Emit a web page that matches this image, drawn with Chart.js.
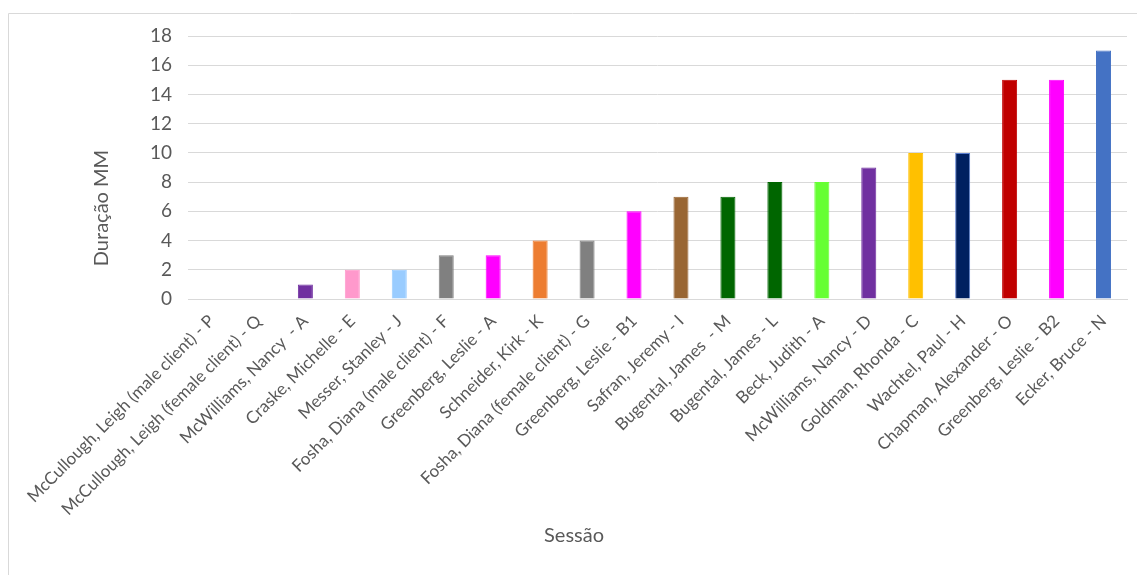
<!DOCTYPE html>
<html lang="pt">
<head>
<meta charset="utf-8">
<title>Duração MM por sessão</title>
<script src="https://cdn.jsdelivr.net/npm/chart.js"></script>
<style>
  html, body { margin: 0; padding: 0; background: #fff; }
  #wrap { width: 1137px; height: 575px; }
</style>
</head>
<body>
<div id="wrap"><canvas id="duracaoChart" width="1137" height="575"></canvas></div>

<script>
  // sessões, em ordem crescente de duração
  const sessoes = [
    'McCullough, Leigh (male client) - P',
    'McCullough, Leigh (female client) - Q',
    'McWilliams, Nancy  - A',
    'Craske, Michelle - E',
    'Messer, Stanley - J',
    'Fosha, Diana (male client) - F',
    'Greenberg, Leslie - A',
    'Schneider, Kirk - K',
    'Fosha, Diana (female client) - G',
    'Greenberg, Leslie - B1',
    'Safran, Jeremy - I',
    'Bugental, James  - M',
    'Bugental, James - L',
    'Beck, Judith - A',
    'McWilliams, Nancy - D',
    'Goldman, Rhonda - C',
    'Wachtel, Paul - H',
    'Chapman, Alexander - O',
    'Greenberg, Leslie - B2',
    'Ecker, Bruce - N'
  ];
  const duracao = [0, 0, 1, 2, 2, 3, 3, 4, 4, 6, 7, 7, 8, 8, 9, 10, 10, 15, 15, 17];
  const cores = [
    '#7030A0', '#7030A0', '#7030A0', '#FF99CC', '#99CCFF',
    '#808080', '#FF00FF', '#ED7D31', '#808080', '#FF00FF',
    '#996633', '#006600', '#006600', '#66FF33', '#7030A0',
    '#FFC000', '#002060', '#C00000', '#FF00FF', '#4472C4'
  ];
  const bordas = cores.map((c, i) => i === 16 ? '#5B7FD0' : c);
  const yMax = 18;
  const yPasso = 2;

  const cinzaTexto = '#595959';
  const cinzaLinha = '#d9d9d9';
  const fonte = 'Lato';

  // moldura do gráfico e títulos dos eixos
  const molduraETitulos = {
    id: 'molduraETitulos',
    afterDraw(chart) {
      const ctx = chart.ctx;
      ctx.save();
      ctx.strokeStyle = cinzaLinha;
      ctx.lineWidth = 1;
      ctx.beginPath();
      ctx.moveTo(8.5, chart.height);
      ctx.lineTo(8.5, 13.5);
      ctx.lineTo(chart.width, 13.5);
      ctx.stroke();

      ctx.fillStyle = cinzaTexto;
      ctx.font = '20px ' + fonte;
      ctx.textAlign = 'center';
      ctx.textBaseline = 'middle';
      ctx.fillText('Sessão', 574, 536);
      ctx.translate(102, 208);
      ctx.rotate(-Math.PI / 2);
      ctx.fillText('Duração MM', 0, 0);
      ctx.restore();
    }
  };

  new Chart(document.getElementById('duracaoChart').getContext('2d'), {
    type: 'bar',
    data: {
      labels: sessoes,
      datasets: [{
        label: 'Duração MM',
        data: duracao,
        backgroundColor: cores,
        borderColor: bordas,
        borderWidth: 1,
        categoryPercentage: 1,
        barPercentage: 0.32
      }]
    },
    options: {
      responsive: false,
      animation: false,
      layout: { padding: { top: 36, right: 10, left: 0, bottom: 0 } },
      plugins: {
        legend: { display: false },
        tooltip: { enabled: false }
      },
      scales: {
        x: {
          grid: { display: false, drawTicks: false },
          border: { display: true, color: cinzaLinha, width: 1 },
          ticks: {
            autoSkip: false,
            maxRotation: 45,
            minRotation: 45,
            padding: 12,
            color: cinzaTexto,
            font: { family: fonte, size: 17 }
          },
          afterFit(scale) { scale.height = 276; }
        },
        y: {
          min: 0,
          max: yMax,
          grid: { color: cinzaLinha, lineWidth: 1, drawTicks: false },
          border: { display: false },
          ticks: {
            stepSize: yPasso,
            padding: 16,
            color: cinzaTexto,
            font: { family: fonte, size: 19 }
          },
          afterFit(scale) { scale.width = 188; }
        }
      }
    },
    plugins: [molduraETitulos]
  });
</script>
</body>
</html>
